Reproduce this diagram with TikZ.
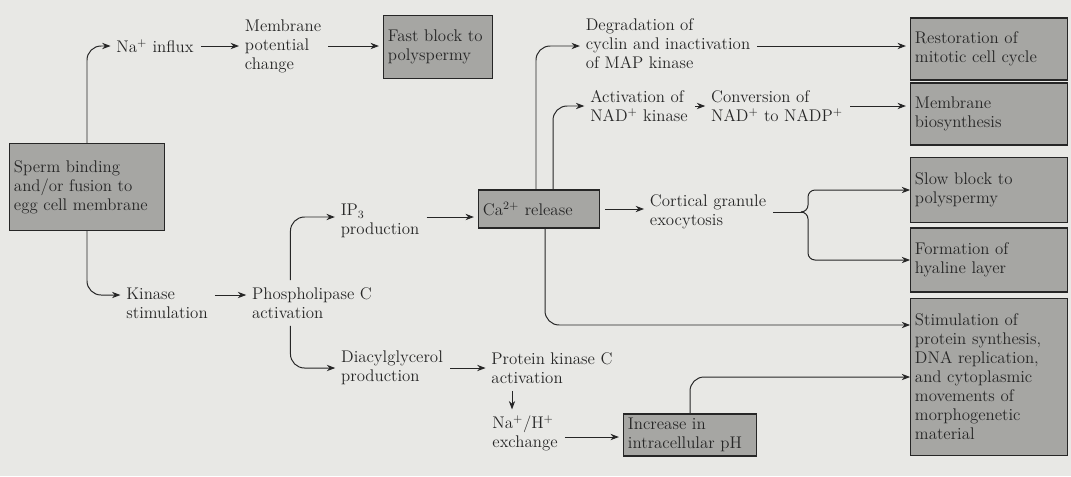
\documentclass[tikz,border=0pt]{standalone}
\usepackage{tikz}
\usetikzlibrary{arrows.meta}
\definecolor{paper}{HTML}{E8E8E5}
\definecolor{boxgray}{HTML}{A6A6A3}
\definecolor{ink}{HTML}{262626}
\tikzset{
  txt/.style={align=left, inner sep=1pt, text=ink, font=\fontsize{12}{13.5}\selectfont},
  box/.style={txt, draw=ink, line width=0.9pt, fill=boxgray, inner sep=3pt},
  endbox/.style={box, text width=3.7cm, minimum height=#1},
  arr/.style={-{Stealth[length=6pt,width=4.5pt]}, draw=ink, line width=0.7pt},
  gap/.style={shorten <=4pt, shorten >=3pt},
}

\begin{document}
\begin{tikzpicture}[x=0.025cm, y=-0.025cm]
  \fill[paper] (0,0) rectangle (1071,476);
  \useasboundingbox (0,0) rectangle (1071,476);

  % start
  \node[box, text width=3.65cm, minimum height=2.175cm] (sperm) at (87,187)
    {Sperm binding\\and/or fusion to\\egg cell membrane};

  % fast block branch
  \node[txt] (na) at (155,46) {Na$^+$ influx};
  \node[txt] (mpc) at (283,46) {Membrane\\potential\\change};
  \node[box, text width=2.5cm, minimum height=1.575cm] (fast) at (438,47)
    {Fast block to\\polyspermy};

  % kinase branch
  \node[txt] (kin) at (167,303) {Kinase\\stimulation};
  \node[txt] (plc) at (312,303) {Phospholipase C\\activation};
  \node[txt] (ip3) at (380,221) {IP$_3$\\production};
  \node[txt] (dag) at (392,368) {Diacylglycerol\\production};
  \node[txt] (pkc) at (552,368) {Protein kinase C\\activation};
  \node[txt] (nah) at (525,433) {Na$^+$/H$^+$\\exchange};
  \node[box, text width=3.1cm, minimum height=1cm] (ph) at (690,435)
    {Increase in\\intracellular pH};

  % calcium
  \node[box, text width=2.8cm, minimum height=0.95cm] (ca) at (539,209)
    {Ca$^{2+}$ release};
  \node[txt] (deg) at (668,44) {Degradation of\\cyclin and inactivation\\of MAP kinase};
  \node[txt] (nadk) at (639,106) {Activation of\\NAD$^+$ kinase};
  \node[txt] (conv) at (777,106) {Conversion of\\NAD$^+$ to NADP$^+$};
  \node[txt] (cge) at (708,212) {Cortical granule\\exocytosis};

  % outcomes
  \node[endbox=1.55cm] (rest) at (989,49) {Restoration of\\mitotic cell cycle};
  \node[endbox=1.55cm] (memb) at (989,114) {Membrane\\biosynthesis};
  \node[endbox=1.625cm] (slow) at (989,190) {Slow block to\\polyspermy};
  \node[endbox=1.6cm] (hyal) at (989,260) {Formation of\\hyaline layer};
  \node[endbox=3.925cm] (stim) at (989,377)
    {Stimulation of\\protein synthesis,\\DNA replication,\\and cytoplasmic\\movements of\\morphogenetic\\material};

  \coordinate (br) at (802,212);

  \draw[arr, rounded corners=10pt, shorten >=3pt] (sperm.north) |- (na.west);
  \draw[arr, gap] (na.east) -- (mpc.east -| mpc.west);
  \draw[arr, gap] (mpc.east) -- (mpc.east -| fast.west);
  \draw[arr, rounded corners=10pt, shorten >=3pt] (sperm.south) |- ([yshift=0.2cm]kin.west);
  \draw[arr, gap] ([yshift=0.2cm]kin.east) -- ([yshift=0.2cm]plc.west);
  \draw[arr, rounded corners=10pt, gap] ([xshift=1cm]plc.north west) |- ([yshift=0.1cm]ip3.west);
  \draw[arr, rounded corners=10pt, gap] ([xshift=1cm]plc.south west) |- (dag.west);
  \draw[arr, gap] ([yshift=0.1cm]ip3.east) -- ([yshift=0.1cm]ip3.east -| ca.west);
  \draw[arr, gap] (dag.east) -- (pkc.west);
  \draw[arr, gap] (pkc.south -| 512,0) -- (nah.north -| 512,0);
  \draw[arr, gap] ([yshift=-0.1cm]nah.east) -- ([yshift=-0.1cm]nah.east -| ph.west);
  \draw[arr, rounded corners=10pt] (ph.north) |- (stim.west);

  \draw[arr, rounded corners=10pt, shorten >=3pt] ([xshift=-0.075cm]ca.north) |- ([yshift=-0.05cm]deg.west);
  \draw[arr, rounded corners=10pt, shorten >=3pt] ([xshift=0.35cm]ca.north) |- (nadk.west);
  \draw[arr, rounded corners=10pt] ([xshift=0.15cm]ca.south) |- ([yshift=1.3cm]stim.west);
  \draw[arr, gap] ([yshift=-0.05cm]deg.east) -- ([yshift=-0.05cm]deg.east -| rest.west);
  \draw[arr, gap] (nadk.east) -- (conv.west);
  \draw[arr, gap] (conv.east) -- (conv.east -| memb.west);
  \draw[arr, gap] (ca.east) -- (ca.east -| cge.west);
  \draw[draw=ink, line width=0.7pt, shorten <=4pt] (cge.east) -- (br);
  \draw[arr, rounded corners=5pt] (br) -- ++(6,0) |- (slow.west);
  \draw[arr, rounded corners=5pt] (br) -- ++(6,0) |- (hyal.west);
\end{tikzpicture}
\end{document}
